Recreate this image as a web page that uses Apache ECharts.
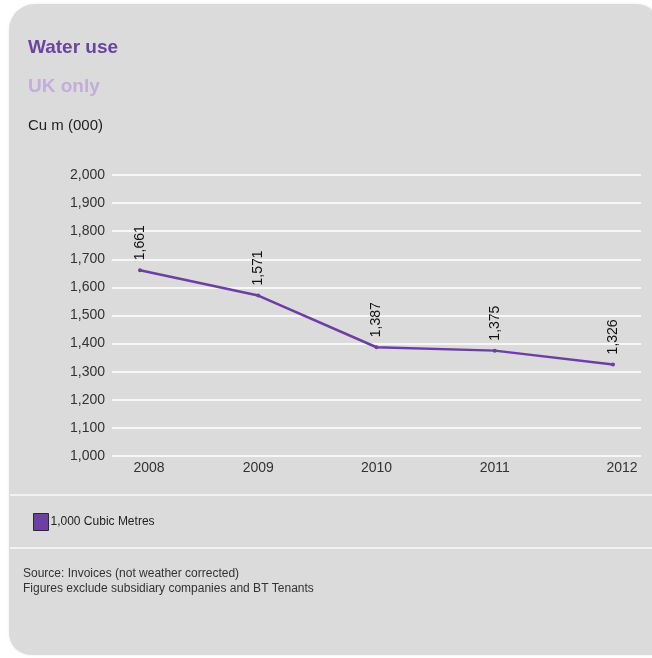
<!DOCTYPE html>
<html>
<head>
<meta charset="utf-8">
<title>Water use</title>
<script src="https://cdn.jsdelivr.net/npm/echarts@6/dist/echarts.min.js"></script>
<style>
  html, body { margin: 0; padding: 0; background: #ffffff; }
  #chart { width: 652px; height: 658px; }
</style>
</head>
<body>
<div id="chart"></div>
<script>
// Annual water consumption, UK only (thousand cubic metres)
const years = [2008, 2009, 2010, 2011, 2012];
const waterUse = [1661, 1571, 1387, 1375, 1326];
const yTicks = [1000, 1100, 1200, 1300, 1400, 1500, 1600, 1700, 1800, 1900, 2000];
const seriesName = '1,000 Cubic Metres';
const titleText = 'Water use';
const subtitleText = 'UK only';
const unitText = 'Cu m (000)';
const footnotes = ['Source: Invoices (not weather corrected)', 'Figures exclude subsidiary companies and BT Tenants'];

const purple = '#6b3fa3';
const font = '"Liberation Sans", Arial, sans-serif';
const fmt = v => v.toLocaleString('en-GB');

const chart = echarts.init(document.getElementById('chart'), null, { renderer: 'canvas' });

chart.setOption({
  backgroundColor: '#ffffff',
  animation: false,
  textStyle: { fontFamily: font },
  graphic: [
    // card
    {
      type: 'rect', z: -10, silent: true,
      shape: { x: 9, y: 4, width: 650, height: 651, r: [26, 22, 4, 22] },
      style: { fill: '#dbdbdb', shadowBlur: 3, shadowColor: 'rgba(0,0,0,0.08)' }
    },
    // separators
    { type: 'rect', z: -5, silent: true, shape: { x: 10, y: 494, width: 652, height: 2 }, style: { fill: '#f2f2f2' } },
    { type: 'rect', z: -5, silent: true, shape: { x: 10, y: 547, width: 652, height: 2 }, style: { fill: '#f2f2f2' } },
    // heading texts
    { type: 'text', left: 28, top: 38, style: { text: titleText, fill: '#6a44a0', font: 'bold 19px ' + font } },
    { type: 'text', left: 28, top: 77, style: { text: subtitleText, fill: '#c3addd', font: 'bold 19px ' + font } },
    { type: 'text', left: 28, top: 118, style: { text: unitText, fill: '#222222', font: '15px ' + font } },
    // footnotes
    { type: 'text', left: 23, top: 566, style: { text: footnotes.join('\n'), fill: '#333333', font: '12px ' + font, lineHeight: 15 } }
  ],
  legend: {
    left: 28, top: 508,
    icon: 'rect',
    itemWidth: 15, itemHeight: 17,
    itemGap: 10,
    itemStyle: { borderColor: '#2a2a2a', borderWidth: 1 },
    textStyle: { fontSize: 12, color: '#222222', fontFamily: font, padding: [0, 0, 0, -3] },
    data: [seriesName]
  },
  grid: { left: 112, right: 11, top: 175, height: 281, containLabel: false },
  xAxis: {
    type: 'value',
    min: 2007.763,
    max: 2012.237,
    axisLine: { show: false },
    axisTick: { show: false },
    splitLine: { show: false },
    axisLabel: {
      customValues: years,
      margin: 5,
      color: '#333333',
      fontSize: 14,
      fontFamily: font,
      formatter: v => {
        const y = Math.round(v);
        return (y === years[0] || y === years[years.length - 1]) ? '{edge|' + y + '}' : String(y);
      },
      rich: {
        edge: { fontSize: 14, color: '#333333', fontFamily: font, padding: [0, 0, 0, 18] }
      }
    }
  },
  yAxis: {
    type: 'value',
    min: yTicks[0],
    max: yTicks[yTicks.length - 1],
    interval: 100,
    axisLine: { show: false },
    axisTick: { show: false },
    splitLine: { show: true, lineStyle: { color: '#f7f7f7', width: 2 } },
    axisLabel: {
      margin: 7,
      color: '#333333',
      fontSize: 14,
      fontFamily: font,
      formatter: v => fmt(v)
    }
  },
  series: [{
    name: seriesName,
    type: 'line',
    data: years.map((y, i) => [y, waterUse[i]]),
    color: purple,
    lineStyle: { color: purple, width: 2.5 },
    symbol: 'circle',
    symbolSize: 4,
    itemStyle: { color: purple },
    label: {
      show: true,
      position: 'top',
      distance: 8,
      rotate: 90,
      align: 'left',
      verticalAlign: 'middle',
      color: '#111111',
      fontSize: 14,
      fontFamily: font,
      formatter: p => fmt(p.value[1])
    }
  }]
});
</script>
</body>
</html>
